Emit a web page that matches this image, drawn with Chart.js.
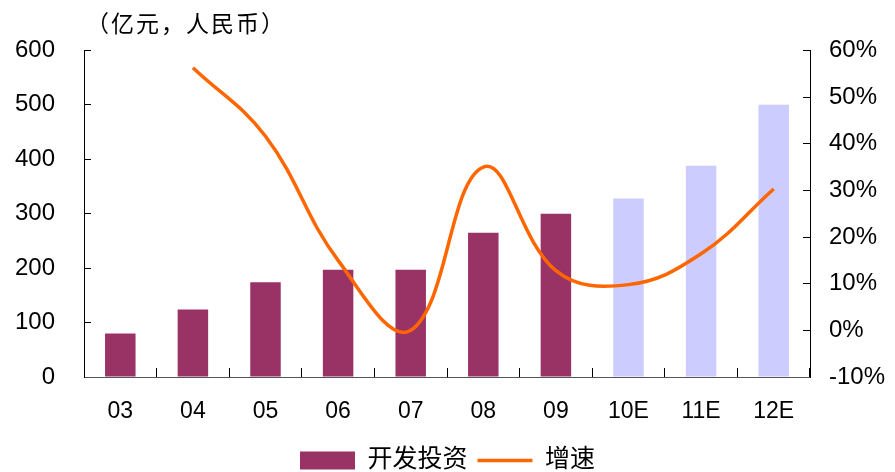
<!DOCTYPE html>
<html>
<head>
<meta charset="utf-8">
<script src="https://cdn.jsdelivr.net/npm/chart.js@4/dist/chart.umd.min.js"></script>
<style>
  html, body { margin: 0; padding: 0; background: #fff; }
  #wrap { width: 895px; height: 472px; }
</style>
</head>
<body>
<div id="wrap"><canvas id="chart"></canvas></div>
<script>
// Years on the x axis (E = estimate)
const years = ['03', '04', '05', '06', '07', '08', '09', '10E', '11E', '12E'];
// Development investment, 100 million RMB
const investment = [80, 124, 174, 197, 197, 265, 300, 328, 388, 500];
// Growth rate, %
const growth = [null, 56.3, 41.6, 15, 0, 35, 12.8, 9.8, 16.4, 30.3];
const forecastStart = 7; // first estimated year

const FONT = '"Liberation Sans", "Noto Sans CJK SC", sans-serif';
const PURPLE = '#993366';
const LILAC = '#CCCCFF';
const ORANGE = '#FF6600';

// unit caption above the left axis
const unitLabel = {
  id: 'unitLabel',
  afterDraw(chart) {
    const c = chart.ctx;
    c.save();
    c.font = '23px "Noto Sans CJK SC", sans-serif';
    c.letterSpacing = '2px';
    c.fillStyle = '#000';
    c.textBaseline = 'middle';
    c.fillText('（亿元，人民币）', chart.chartArea.left + 2, 23);
    c.restore();
  }
};

const ctx = document.getElementById('chart').getContext('2d');
new Chart(ctx, {
  type: 'bar',
  data: {
    labels: years,
    datasets: [{
      label: '开发投资',
      data: investment,
      backgroundColor: c => c.dataIndex >= forecastStart ? LILAC : PURPLE,
      categoryPercentage: 1,
      barPercentage: 0.42,
      yAxisID: 'y',
      order: 2
    }, {
      type: 'line',
      label: '增速',
      data: growth,
      borderColor: ORANGE,
      borderWidth: 3.5,
      pointRadius: 0,
      tension: 0.4,
      yAxisID: 'y1',
      order: 1
    }]
  },
  options: {
    responsive: true,
    maintainAspectRatio: false,
    animation: false,
    layout: { padding: { top: 49, left: 0, right: 0, bottom: -11 } },
    plugins: {
      tooltip: { enabled: false },
      legend: {
        position: 'bottom',
        labels: {
          usePointStyle: true,
          pointStyleWidth: 55,
          boxHeight: 18,
          padding: 10,
          color: '#000',
          font: { family: FONT, size: 25 },
          generateLabels: chart => chart.data.datasets.map((ds, i) => ({
            text: ds.label,
            datasetIndex: i,
            hidden: false,
            pointStyle: i === 0 ? 'rect' : 'line',
            fillStyle: i === 0 ? PURPLE : ORANGE,
            strokeStyle: i === 0 ? PURPLE : ORANGE,
            lineWidth: i === 0 ? 0 : 3.5,
            fontColor: '#000'
          }))
        }
      }
    },
    scales: {
      x: {
        grid: { drawOnChartArea: false, tickLength: -9, color: '#000' },
        border: { color: '#555' },
        ticks: { color: '#000', padding: 30, font: { family: FONT, size: 23 } },
        afterFit: s => { s.height = 61; }
      },
      y: {
        position: 'left',
        min: 0, max: 600,
        ticks: { stepSize: 100, color: '#000', padding: 36, font: { family: FONT, size: 24 } },
        grid: { drawOnChartArea: false, tickLength: -7, color: '#000' },
        border: { color: '#000' },
        afterFit: s => { s.width = 84; }
      },
      y1: {
        position: 'right',
        min: -10, max: 60,
        ticks: { stepSize: 10, color: '#000', padding: 26, font: { family: FONT, size: 24 },
                 callback: v => v + '%' },
        grid: { drawOnChartArea: false, tickLength: -7, color: '#000' },
        border: { color: '#000' },
        afterFit: s => { s.width = 85; }
      }
    }
  },
  plugins: [unitLabel]
});
</script>
</body>
</html>
